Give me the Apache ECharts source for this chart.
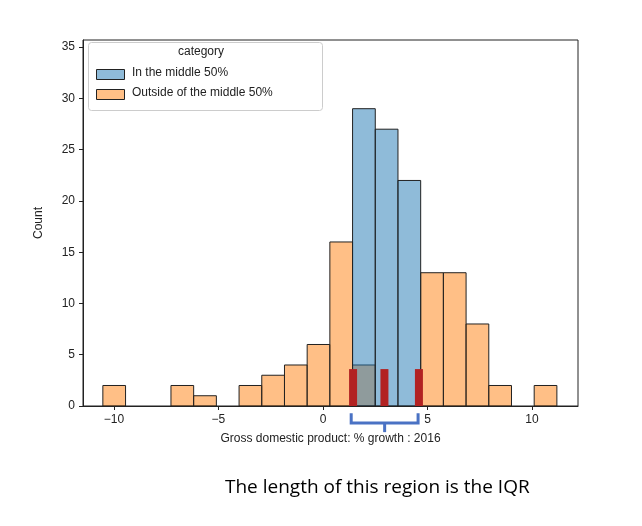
<!DOCTYPE html>
<html><head><meta charset="utf-8">
<script src="https://cdn.jsdelivr.net/npm/echarts@6/dist/echarts.min.js"></script>
<style>html,body{margin:0;padding:0;background:#fff}#c{width:642px;height:526px}</style>
</head><body><div id="c"></div>
<script>
const binStart = -10.53;
const binWidth = 1.086;
const outsideCounts = [2,0,0,2,1,0,2,3,4,6,16,4,0,0,13,13,8,2,0,2];
const middleCounts  = [0,0,0,0,0,0,0,0,0,0,0,29,27,22,0,0,0,0,0,0];
const quartiles = [1.44, 2.94, 4.59];
const markerHeight = 3.6;
const bracket = [1.35, 4.55];
const BLUE='rgba(31,119,180,0.5)', ORANGE='rgba(255,127,14,0.5)';

function bins(counts){
  const out=[];
  counts.forEach((c,i)=>{ if(c>0) out.push([binStart+i*binWidth, binStart+(i+1)*binWidth, c]); });
  return out;
}
function barItem(color){
  return function(params, api){
    const p0 = api.coord([api.value(0), api.value(2)]);
    const p1 = api.coord([api.value(1), 0]);
    return {type:'rect', shape:{x:p0[0], y:p0[1], width:p1[0]-p0[0], height:p1[1]-p0[1]},
      style:{fill:color, stroke:'#222', lineWidth:1}};
  };
}
const chart = echarts.init(document.getElementById('c'));
chart.setOption({
  animation:false,
  grid:{left:83, right:64, top:40, bottom:120, show:true, borderColor:'#222', borderWidth:1, backgroundColor:'transparent'},
  xAxis:{type:'value', min:-11.48, max:12.2, interval:5,
    axisLabel:{color:'#222', fontSize:12, customValues:[-10,-5,0,5,10], formatter:v=>String(v).replace('-','−')},
    axisTick:{show:true, customValues:[-10,-5,0,5,10], length:4, lineStyle:{color:'#222'}},
    axisLine:{onZero:false, lineStyle:{color:'#222'}},
    splitLine:{show:false},
    name:'Gross domestic product: % growth : 2016', nameLocation:'middle', nameGap:27,
    nameTextStyle:{color:'#222', fontSize:12}},
  yAxis:{type:'value', min:0, max:35.7, interval:5,
    axisLabel:{color:'#222', fontSize:12, showMaxLabel:false},
    axisTick:{show:true, length:4, lineStyle:{color:'#222'}},
    axisLine:{show:true, onZero:false, lineStyle:{color:'#222'}},
    splitLine:{show:false},
    name:'Count', nameLocation:'middle', nameGap:38, nameTextStyle:{color:'#222', fontSize:12}},
  series:[
    {type:'custom', renderItem:barItem(ORANGE), data:bins(outsideCounts), z:2},
    {type:'custom', renderItem:barItem(BLUE), data:bins(middleCounts), z:3},
    {type:'custom', z:4, clip:false, data:quartiles.map(q=>[q]),
      renderItem:(p,api)=>{
        const a=api.coord([api.value(0),markerHeight]); const b=api.coord([api.value(0),0]);
        return {type:'rect', shape:{x:a[0]-4, y:a[1], width:8, height:b[1]-a[1]}, style:{fill:'#b22222'}};
      }},
    {type:'custom', z:4, clip:false, data:[bracket],
      renderItem:(p,api)=>{
        const l=api.coord([api.value(0),-0.7]), r=api.coord([api.value(1),-0.7]);
        const bot=api.coord([api.value(0),-1.65])[1], tip=api.coord([api.value(0),-2.55])[1];
        const m=(l[0]+r[0])/2;
        return {type:'group', children:[
          {type:'polyline', shape:{points:[[l[0],l[1]],[l[0],bot],[r[0],bot],[r[0],r[1]]]}, style:{stroke:'#4a72c4', lineWidth:3, fill:null}},
          {type:'line', shape:{x1:m,y1:bot,x2:m,y2:tip}, style:{stroke:'#4a72c4', lineWidth:3}}
        ]};
      }}
  ],
  graphic:[
    {type:'rect', left:88, top:42, z:10, shape:{width:234, height:68, r:3}, style:{fill:'rgba(255,255,255,0.85)', stroke:'#ccc'}},
    {type:'text', left:178, top:46, z:11, style:{text:'category', fontSize:12, fill:'#222'}},
    {type:'rect', left:96, top:69, z:11, shape:{width:28, height:10}, style:{fill:BLUE, stroke:'#222'}},
    {type:'text', left:132, top:67, z:11, style:{text:'In the middle 50%', fontSize:12, fill:'#222'}},
    {type:'rect', left:96, top:89, z:11, shape:{width:28, height:10}, style:{fill:ORANGE, stroke:'#222'}},
    {type:'text', left:132, top:87, z:11, style:{text:'Outside of the middle 50%', fontSize:12, fill:'#222'}},
    {type:'text', left:225, top:478, style:{text:'The length of this region is the IQR', fontSize:19, fill:'#000', fontFamily:'Open Sans'}}
  ]
});
</script></body></html>
